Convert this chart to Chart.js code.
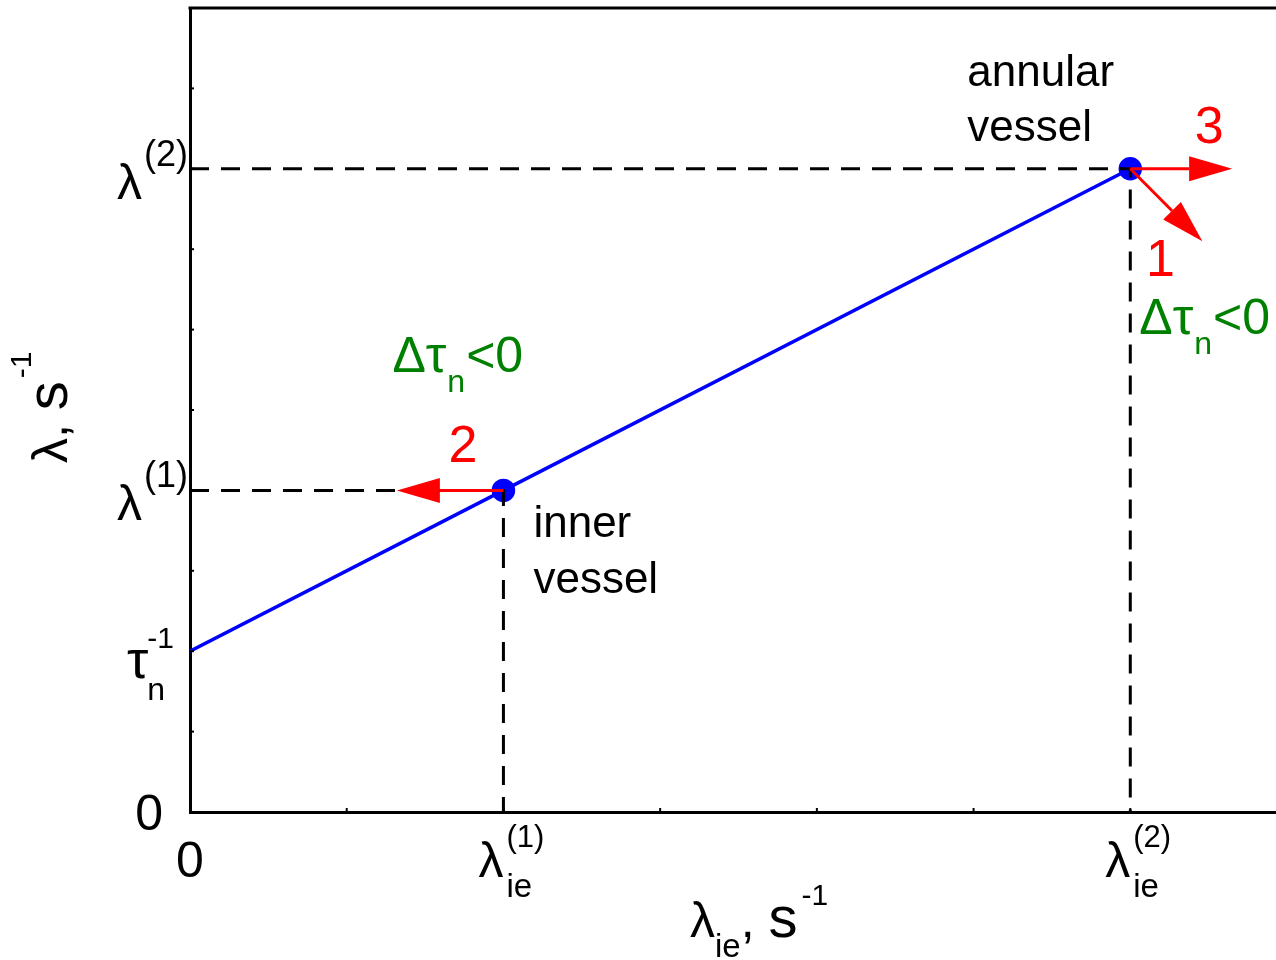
<!DOCTYPE html>
<html>
<head>
<meta charset="utf-8">
<script src="https://cdn.jsdelivr.net/npm/chart.js@4/dist/chart.umd.min.js"></script>
<style>
html, body { margin: 0; padding: 0; background: #fff; overflow: hidden; }
#wrap { width: 1300px; height: 960px; }
</style>
</head>
<body>
<div id="wrap"><canvas id="c" width="1300" height="960"></canvas></div>
<script>
// blue line: lambda = 1/tau_n + lambda_ie
var lineX = [0, 2, 6];
var lineY = [2, 4, 8];

// the two vessels (lambda_ie, lambda)
var vesselName = ["inner", "annular"];
var vesselX = [2, 6];
var vesselY = [4, 8];

// red arrows, start and tip in axis units
var arrowName = ["1", "2", "3"];
var arrowX0 = [6, 2, 6];
var arrowY0 = [8, 4, 8];
var arrowX1 = [6.46, 1.32, 6.65];
var arrowY1 = [7.10, 4, 8];

// axis ticks and the labelled ones
var xTicks = [0, 1, 2, 3, 4, 5, 6, 7];
var yTicks = [0, 1, 2, 3, 4, 5, 6, 7, 8, 9, 10];
var xLabelAt   = [0, 2, 6];
var xLabelBase = ["0", "λ", "λ"];
var xLabelSub  = ["", "ie", "ie"];
var xLabelSup  = ["", "(1)", "(2)"];
var yLabelAt   = [0, 2, 4, 8];
var yLabelBase = ["0", "τ", "λ", "λ"];
var yLabelSub  = ["", "n", "", ""];
var yLabelSup  = ["", "-1", "(1)", "(2)"];

var FONT = '"Liberation Sans", Arial, sans-serif';
var RED = '#ff0000', GREEN = '#008000', BLUE = '#0000ff';

function put(ctx, s, x, y, size, color) {
    ctx.font = size + 'px ' + FONT;
    ctx.fillStyle = color || '#000';
    ctx.fillText(s, x, y);
    return ctx.measureText(s).width;
}

function deltaTau(ctx, x, y) {
    var w = put(ctx, 'Δ', x, y, 50, GREEN);
    w += put(ctx, 'τ', x + w, y, 52, GREEN);
    w += put(ctx, 'n', x + w + 1, y + 20, 32, GREEN) + 2;
    put(ctx, '<0', x + w, y, 50, GREEN);
}

function arrow(ctx, x0, y0, x1, y1) {
    var a = Math.atan2(y1 - y0, x1 - x0);
    var hl = 43, hw = 12.5;
    var bx = x1 - hl * Math.cos(a), by = y1 - hl * Math.sin(a);
    ctx.strokeStyle = RED;
    ctx.fillStyle = RED;
    ctx.lineWidth = 3;
    ctx.beginPath();
    ctx.moveTo(x0, y0);
    ctx.lineTo(bx, by);
    ctx.stroke();
    ctx.beginPath();
    ctx.moveTo(x1, y1);
    ctx.lineTo(bx - hw * Math.sin(a), by + hw * Math.cos(a));
    ctx.lineTo(bx + hw * Math.sin(a), by - hw * Math.cos(a));
    ctx.closePath();
    ctx.fill();
}

var extras = {
    id: 'extras',
    afterDatasetsDraw: function (chart) {
        var ctx = chart.ctx, xs = chart.scales.x, ys = chart.scales.y;
        ctx.save();
        for (var i = 0; i < arrowName.length; i++) {
            arrow(ctx, xs.getPixelForValue(arrowX0[i]), ys.getPixelForValue(arrowY0[i]),
                       xs.getPixelForValue(arrowX1[i]), ys.getPixelForValue(arrowY1[i]));
        }
        ctx.restore();
    },
    afterDraw: function (chart) {
        var ctx = chart.ctx, xs = chart.scales.x, ys = chart.scales.y, ca = chart.chartArea;
        ctx.save();
        ctx.textBaseline = 'alphabetic';
        ctx.textAlign = 'left';

        // top edge of the frame
        ctx.strokeStyle = '#000';
        ctx.lineWidth = 3;
        ctx.beginPath();
        ctx.moveTo(ca.left - 1.5, ca.top);
        ctx.lineTo(chart.width, ca.top);
        ctx.stroke();

        // small inward ticks
        ctx.lineWidth = 2;
        xTicks.forEach(function (v) {
            var px = xs.getPixelForValue(v);
            ctx.beginPath(); ctx.moveTo(px, ca.bottom); ctx.lineTo(px, ca.bottom - 4); ctx.stroke();
        });
        yTicks.forEach(function (v) {
            var py = ys.getPixelForValue(v);
            ctx.beginPath(); ctx.moveTo(ca.left, py); ctx.lineTo(ca.left + 4, py); ctx.stroke();
        });

        // x tick labels
        xLabelAt.forEach(function (v, i) {
            var px = xs.getPixelForValue(v);
            if (!xLabelSub[i]) {
                ctx.textAlign = 'center';
                put(ctx, xLabelBase[i], px, 877, 50);
                ctx.textAlign = 'left';
                return;
            }
            var x0 = px - 25;
            var w = put(ctx, xLabelBase[i], x0, 877, 50);
            put(ctx, xLabelSup[i], x0 + w + 3, 847, 31);
            put(ctx, xLabelSub[i], x0 + w + 3, 897, 33);
        });

        // y tick labels
        yLabelAt.forEach(function (v, i) {
            var py = ys.getPixelForValue(v);
            if (!yLabelSup[i]) {
                ctx.textAlign = 'right';
                put(ctx, yLabelBase[i], ca.left - 27, py + 18, 50);
                ctx.textAlign = 'left';
                return;
            }
            if (yLabelSub[i]) {
                var x0 = ca.left - 63;
                var w = put(ctx, yLabelBase[i], x0, py + 27, 54);
                put(ctx, yLabelSup[i], x0 + w - 1, py - 3, 30);
                put(ctx, yLabelSub[i], x0 + w - 1, py + 49, 32);
            } else {
                var x1 = ca.left - 73;
                var w1 = put(ctx, yLabelBase[i], x1, py + 30, 50);
                put(ctx, yLabelSup[i], x1 + w1 + 2, py - 3, 36);
            }
        });

        // x axis title
        var tx = 690, w2 = put(ctx, 'λ', tx, 937, 50);
        var wsub = put(ctx, 'ie', tx + w2, 957, 33);
        tx += w2 + wsub;
        tx += put(ctx, ', ', tx, 937, 50);
        tx += put(ctx, 's', tx, 937, 58);
        put(ctx, '-1', tx + 4, 905, 30);

        // y axis title, rotated
        ctx.save();
        ctx.translate(67, 463);
        ctx.rotate(-Math.PI / 2);
        var ty = put(ctx, 'λ', 0, 0, 50);
        ty += put(ctx, ', ', ty, 0, 50);
        ty += put(ctx, 's', ty, 0, 58);
        put(ctx, '-1', ty + 3, -36, 30);
        ctx.restore();

        // vessel captions and delta tau notes
        var p1x = xs.getPixelForValue(vesselX[0]), p1y = ys.getPixelForValue(vesselY[0]);
        var p2x = xs.getPixelForValue(vesselX[1]), p2y = ys.getPixelForValue(vesselY[1]);
        put(ctx, vesselName[0], p1x + 30, p1y + 47, 44);
        put(ctx, 'vessel', p1x + 30, p1y + 103, 44);
        put(ctx, vesselName[1], p2x - 163, p2y - 83, 44);
        put(ctx, 'vessel', p2x - 163, p2y - 28, 44);
        deltaTau(ctx, p1x - 111, p1y - 118);
        deltaTau(ctx, p2x + 9, p2y + 165);

        // arrow numbers
        var off = { "1": [-42, 35], "2": [66, -28], "3": [-23, -26] };
        ctx.textAlign = 'center';
        for (var i = 0; i < arrowName.length; i++) {
            var ax = xs.getPixelForValue(arrowX1[i]), ay = ys.getPixelForValue(arrowY1[i]);
            var o = off[arrowName[i]];
            put(ctx, arrowName[i], ax + o[0], ay + o[1], 52, RED);
        }
        ctx.restore();
    }
};

var guides = vesselX.map(function (vx, i) {
    return {
        data: [{ x: 0, y: vesselY[i] }, { x: vx, y: vesselY[i] }, { x: vx, y: 0 }],
        showLine: true,
        borderColor: '#000',
        borderWidth: 3,
        borderDash: [19, 12],
        pointRadius: 0,
        fill: false
    };
});

var blue = {
    data: lineX.map(function (x, i) { return { x: x, y: lineY[i] }; }),
    showLine: true,
    borderColor: BLUE,
    borderWidth: 3.5,
    pointRadius: lineX.map(function (x) { return vesselX.indexOf(x) >= 0 ? 10 : 0; }),
    pointBackgroundColor: BLUE,
    pointBorderColor: BLUE,
    fill: false
};

new Chart(document.getElementById('c'), {
    type: 'scatter',
    data: { datasets: guides.concat([blue]) },
    options: {
        responsive: false,
        animation: false,
        devicePixelRatio: 1,
        layout: { autoPadding: false, padding: { top: 8, right: 13, left: 0, bottom: 0 } },
        plugins: { legend: { display: false }, tooltip: { enabled: false } },
        scales: {
            x: {
                type: 'linear', min: 0, max: 7,
                grid: { display: false },
                border: { display: true, color: '#000', width: 3 },
                ticks: { display: false },
                afterFit: function (s) { s.height = 148; }
            },
            y: {
                type: 'linear', min: 0, max: 10,
                grid: { display: false },
                border: { display: true, color: '#000', width: 3 },
                ticks: { display: false },
                afterFit: function (s) { s.width = 190; }
            }
        }
    },
    plugins: [extras]
});
</script>
</body>
</html>
